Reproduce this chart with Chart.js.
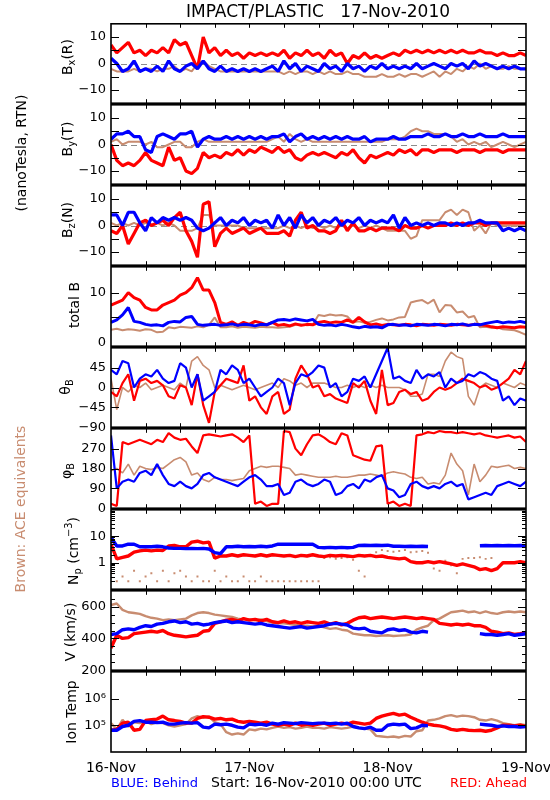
<!DOCTYPE html>
<html lang="en">
<head>
<meta charset="UTF-8">
<title>IMPACT/PLASTIC 17-Nov-2010</title>
<script src="https://cdn.jsdelivr.net/npm/chart.js"></script>
<style>
  body { margin: 0; background: #fff; }
  #page { position: relative; width: 550px; height: 800px; overflow: hidden; background: #fff;
          font-family: "DejaVu Sans", sans-serif; color: #000; }
  #page canvas { position: absolute; left: 0; }
  .txt { position: absolute; white-space: pre; line-height: 1; z-index: 5; }
  .rot { transform: translate(-50%, -50%) rotate(-90deg); }
  .ytitle { font-size: 14px; }
  sub, sup { font-size: 0.7em; line-height: 0; }
  sub { vertical-align: -0.35em; }
  sup { vertical-align: 0.6em; }
</style>
</head>
<body>
<div id="page">
  <div class="txt" style="left:318px; top:3px; font-size:17px; transform:translateX(-50%)">IMPACT/PLASTIC   17-Nov-2010</div>

  <div class="txt rot" style="left:21px; top:153px; font-size:14px">(nanoTesla, RTN)</div>
  <div class="txt rot" style="left:20px; top:509px; font-size:14px; color:#c88c70">Brown: ACE equivalents</div>

  <div class="txt rot ytitle" style="left:67px; top:57px">B<sub>x</sub>(R)</div>
  <div class="txt rot ytitle" style="left:67px; top:139px">B<sub>y</sub>(T)</div>
  <div class="txt rot ytitle" style="left:67px; top:220px">B<sub>z</sub>(N)</div>
  <div class="txt rot ytitle" style="left:74px; top:305px">total B</div>
  <div class="txt rot ytitle" style="left:65px; top:387px">θ<sub>B</sub></div>
  <div class="txt rot ytitle" style="left:66px; top:471px">φ<sub>B</sub></div>
  <div class="txt rot ytitle" style="left:73px; top:551px">N<sub>p</sub> (cm<sup>−3</sup>)</div>
  <div class="txt rot ytitle" style="left:70px; top:632px">V (km/s)</div>
  <div class="txt rot ytitle" style="left:71px; top:712px">Ion Temp</div>

  <div class="txt" style="left:111px; top:776px; font-size:13px; color:#0000ff">BLUE: Behind</div>
  <div class="txt" style="left:211px; top:775px; font-size:14px">Start: 16-Nov-2010 00:00 UTC</div>
  <div class="txt" style="left:450px; top:776px; font-size:13px; color:#ff0000">RED: Ahead</div>
</div>

<script>
// hourly samples from 16-Nov-2010 00:00 UTC (index = hours since start)
const dayTicks = ['16-Nov', '17-Nov', '18-Nov', '19-Nov'];

// B_x (R), nT
const bxBehind = [2, 0, -3, -2, 1, -3, -2, -3, -1, -3,
  1, -2, -3, -1, 0, -2, 1, -2, -3, -1,
  -3, -2, -3, -2, -3, -2, -3, -2, -1, -3,
  1, -2, 0, -3, -1, -2, -3, 0, -2, -1,
  -3, 0, -2, -1, -3, -1, -2, 0, -2, -1,
  -2, -1, -2, 0, -2, -1, 0, -1, -2, 0,
  -1, 0, -2, 1, -1, 0, -1, -2, -1, -2,
  -1, -2, -2];
const bxAhead = [7, 4, 6, 8, 4, 5, 3, 5, 4, 6,
  4, 9, 7, 8, 3, -2, 10, 4, 6, 3,
  5, 3, 4, 2, 4, 3, 4, 3, 4, 3,
  5, 2, 4, 3, 5, 3, 4, 2, 5, 3,
  4, 0, 3, 2, 4, 2, 3, 2, 3, 4,
  3, 5, 4, 5, 4, 5, 4, 5, 4, 5,
  4, 5, 4, 4, 5, 4, 4, 3, 4, 3,
  3, 4, 3];
const bxAce = [-2, -3, -3, -3, -2, -3, -2, -2, -3, -2,
  -2, -1, -3, -2, -3, 0, 1, -1, -2, -3,
  -3, -3, -3, -3, -3, -3, -3, -3, -3, -3,
  -4, -3, -4, -3, -3, -4, -3, -4, -3, -4,
  -4, -3, -4, -4, -5, -5, -5, -4, -5, -5,
  -4, -5, -4, -4, -5, -4, -3, -5, -3, -4,
  -2, -3, -1, -2, 0, -2, -1, -2, -2, -1,
  -2, -2, -2];

// B_y (T), nT
const byBehind = [2, 4, 4, 5, 3, 3, -2, -3, 3, 4,
  3, 2, 4, 4, 5, -1, 2, 3, 2, 2,
  3, 2, 3, 2, 3, 2, 3, 2, 3, 3,
  4, 1, 3, 4, 2, 3, 2, 3, 2, 3,
  2, 3, 2, 2, 3, 1, 2, 2, 2, 3,
  2, 2, 3, 3, 3, 4, 3, 3, 4, 3,
  3, 4, 3, 3, 4, 3, 3, 3, 4, 3,
  3, 3, 3];
const byAhead = [0, -6, -8, -7, -8, -6, -3, -6, -7, -8,
  -1, -6, -5, -10, -11, -9, -3, -5, -4, -5,
  -3, -4, -2, -4, -2, -3, -1, -2, -3, -1,
  -3, -2, -5, -6, -4, -3, -4, -3, -4, -5,
  -3, -4, -2, -5, -7, -4, -5, -4, -3, -4,
  -2, -3, -2, -4, -2, -2, -3, -2, -2, -2,
  -3, -2, -2, -2, -3, -2, -2, -2, -3, -2,
  -2, -2, -2];
const byAce = [1, 2, 0, 1, 1, 1, 0, 1, -1, -1,
  0, 1, 1, -1, -1, 1, 2, 1, 1, 1,
  1, 1, 1, 1, 1, 1, 1, 1, 2, 3,
  1, 4, 2, 1, 2, 1, 1, 1, 1, 1,
  1, 1, 1, 1, 1, 1, 1, 1, 2, 2,
  2, 3, 5, 6, 5, 5, 4, 4, 4, 3,
  1, 2, 0, 1, 0, 1, -1, 0, 1, 0,
  -1, 0, 1];

// B_z (N), nT
const bzBehind = [4, 4, 0, 5, 5, 1, -2, 3, 1, 3,
  2, 3, 2, 3, 2, -1, -2, -1, 1, 3,
  0, 2, 1, 3, 0, 2, 1, 2, -1, 4,
  0, 3, -1, 4, 1, 3, 0, 2, 1, 3,
  0, 2, 1, 3, 0, 2, 1, 2, 1, 4,
  -1, 3, 0, 1, 0, 1, 0, 1, 1, 0,
  1, 0, 1, 1, 2, 1, 1, 1, -2, -1,
  -2, -1, -2];
const bzAhead = [-2, -3, 0, -7, -3, 1, 2, 0, 1, 2,
  0, 3, 5, -2, -6, -12, 8, 9, -8, -3,
  -1, -3, -2, -1, -3, -2, -1, -3, -3, -3,
  -2, -4, 2, 5, -1, 0, -2, -2, -3, -2,
  2, -2, 1, -2, -2, -1, -2, -1, -1, -1,
  -2, 0, -1, -1, 0, -1, 0, 0, 0, 1,
  0, 1, 0, 1, 1, 0, 1, 1, 1, 1,
  1, 1, 1];
const bzAce = [1, 0, 1, 0, 1, 0, 1, 0, 1, 0,
  1, 0, -2, -2, -2, -1, 4, 4, 0, 0,
  0, 0, 0, -1, -1, -1, -1, -1, -1, -1,
  0, -1, 0, -1, 0, -1, 0, -1, 0, -1,
  0, -1, 0, -1, 0, -1, 0, -1, -2, -2,
  -2, -2, -5, -4, 2, 2, 2, 2, 5, 6,
  4, 6, 5, -2, 0, -3, 1, 0, 0, 0,
  0, 0, 0];

// total B, nT
const btBehind = [4, 4.5, 5.5, 7, 4.2, 4, 3.6, 3.4, 3.5, 3.3,
  4, 4.2, 4.1, 5, 5.2, 3.6, 3.4, 3.5, 3.6, 3.4,
  3.5, 3.7, 3.4, 3.6, 3.5, 3.3, 3.6, 3.5, 4, 4.5,
  4.6, 4.4, 4.7, 4.5, 4.3, 4.6, 3.6, 3.4, 3.5, 3.3,
  3.6, 3.4, 3.1, 2.9, 3.2, 3, 3.1, 2.9, 3.5, 3.6,
  3.4, 3.5, 3.3, 3.6, 3.5, 3.4, 3.6, 3.5, 3.3, 3.6,
  3.5, 3.7, 3.4, 3.6, 3.5, 3.8, 4, 4.2, 3.9, 4.1,
  4, 4.2, 3.9];
const btAhead = [7.5, 8, 8.5, 10, 9, 8.5, 7, 6.5, 6.5, 7.5,
  8, 8.5, 9.5, 10, 11, 13, 10.5, 10.5, 8, 4,
  3.6, 4.1, 3.4, 4, 3.6, 4.2, 3.9, 3.5, 4, 3.4,
  3.6, 3.3, 3.7, 3.4, 3.6, 3.5, 4, 4.2, 3.9, 4.1,
  4, 4.5, 4, 5, 4.1, 3.5, 3.7, 3.4, 3.6, 3.5,
  3.4, 3.6, 3.5, 3.3, 3.6, 3.5, 3.4, 3.6, 3.5, 3.4,
  3.6, 3.5, 3.4, 3.6, 3.5, 3.4, 3.1, 2.9, 3.1, 3,
  2.9, 3.1, 3];
const btAce = [2.5, 2.7, 2.4, 2.6, 2.5, 2.3, 2.6, 2.5, 2, 2.1,
  3, 2.8, 3.1, 3, 2.9, 3.2, 3, 3.5, 5, 3,
  3, 3.2, 2.9, 3.1, 3, 2.9, 3.1, 3, 3, 2.9,
  3, 3.1, 3.5, 3.6, 3.4, 3.5, 5.5, 5.3, 5.6, 5.4,
  5.5, 5.2, 4, 4.2, 3.9, 4.1, 4.5, 4.8, 4.4, 4.6,
  5, 5.1, 8, 8.3, 8.5, 7.8, 8.6, 6, 7.5, 7.4,
  6, 6.2, 5, 5.3, 3, 3.1, 2.9, 3, 2.6, 2.5,
  2.4, 2, 1.5];

// theta_B, degrees
const thBehind = [40, 30, 60, 55, 0, 20, 30, 25, 40, 20,
  10, 15, 55, 45, 0, 30, -30, -20, -10, 40,
  30, 50, 40, 10, 20, 0, -20, -10, 0, 20,
  10, -40, 10, 30, 25, 35, 50, 45, 0, 10,
  -20, -10, 20, 15, 25, 0, 30, 60, 90, 20,
  25, 15, 10, 40, 20, 30, 25, 35, 0, 20,
  10, 15, 30, 25, 35, 30, 20, 15, -30, -20,
  -40, -25, -30];
const thAhead = [-10, -20, 10, 30, -30, 15, 20, 10, 15, 5,
  -20, -25, 5, 0, -40, 30, -40, -80, -10, 5,
  20, 15, 10, 50, -30, -20, -45, -60, -20, -10,
  -60, -50, 20, 50, 30, 0, 5, -20, -15, -25,
  -30, -35, 10, 0, 15, -30, -60, 40, -40, -35,
  -10, -5, -15, -10, -30, -25, -10, 0, -5, 0,
  10, 20, 15, 10, 0, 5, -5, 0, 10, 20,
  40, 30, 60];
const thAce = [20, -50, 0, -10, 5, 0, 10, -5, 0, 5,
  0, -5, 10, 0, 60, 70, 50, 40, 0, 5,
  0, -5, 0, 5, 0, -5, 0, 5, 10, 0,
  20, 15, 5, 10, 0, 10, 10, 10, 5, 0,
  0, 5, 0, 5, 0, 5, 0, 5, 0, 0,
  0, -5, -20, -20, -15, 30, 30, 25, 60, 80,
  70, 65, -20, -40, 0, 10, 5, 0, 10, 5,
  0, 10, 5];

// phi_B, degrees
const phBehind = [330, 90, 120, 130, 120, 160, 170, 150, 200, 150,
  110, 100, 120, 100, 90, 110, 150, 160, 140, 130,
  120, 110, 100, 120, 140, 150, 130, 100, 100, 110,
  60, 70, 120, 130, 110, 100, 110, 130, 120, 60,
  70, 100, 110, 90, 130, 120, 140, 150, 90, 80,
  50, 60, 110, 120, 100, 90, 100, 90, 110, 120,
  100, 110, 40, 50, 60, 70, 60, 100, 110, 120,
  110, 100, 120];
const phAhead = [20, 10, 300, 290, 300, 310, 300, 290, 310, 300,
  340, 320, 310, 315, 280, 250, 330, 335, 330, 325,
  330, 335, 320, 300, 330, 20, 30, 10, 20, 20,
  350, 345, 270, 240, 290, 330, 335, 320, 300, 290,
  340, 330, 240, 230, 220, 215, 280, 285, 20, 30,
  10, 20, 10, 330, 335, 345, 340, 350, 345, 345,
  340, 345, 340, 335, 340, 330, 325, 320, 325, 330,
  320, 325, 300];
const phAce = [170, 180, 160, 200, 150, 190, 180, 175, 185, 180,
  200, 220, 230, 210, 150, 160, 130, 120, 140, 130,
  130, 125, 130, 135, 170, 180, 190, 185, 190, 190,
  185, 180, 150, 155, 150, 145, 140, 140, 140, 145,
  140, 140, 145, 150, 150, 155, 150, 145, 160, 165,
  160, 155, 140, 135, 140, 110, 115, 110, 150, 250,
  200, 170, 60, 200, 120, 150, 190, 185, 190, 195,
  180, 185, 180];

// proton density, cm^-3
const npBehind = [9, 4.3, 4.3, 5, 5, 4, 4, 4, 4.2, 4,
  3.6, 3.5, 3.5, 3.4, 3.5, 3.4, 3.5, 3.3, 2.4, 2.2,
  4, 4, 4.2, 4, 4.1, 4, 4.2, 4, 4.3, 5,
  5, 5, 5, 5, 5, 5, 3.8, 3.7, 3.8, 3.7,
  3.8, 3.7, 3.8, 4.5, 4.6, 4.5, 4.6, 4.5, 4.6, 4.2,
  4.2, 4.1, 4.2, 4.1, 4.2, 4.1, null, null, null, null,
  null, null, null, null, 4.4, 4.5, 4.4, 4.5, 4.4, 4.5,
  4.4, 4.5, 4.4];
const npAhead = [5, 1.4, 1.6, 1.8, 2.5, 2.8, 3, 2.8, 3, 2.9,
  4.3, 4.5, 4, 4, 6, 6.5, 5.6, 6, 1.5, 1.8,
  1.8, 2, 1.8, 2, 1.9, 1.8, 2, 1.8, 2, 1.9,
  1.8, 1.9, 1.7, 1.9, 1.8, 2, 1.8, 1.7, 1.9, 1.8,
  1.9, 1.8, 1.7, 1.9, 1.8, 1.9, 1.7, 1.8, 1.6, 1.5,
  1.4, 1.5, 1.1, 1, 1, 1.1, 1, 1.1, 1, 0.9,
  0.8, 0.9, 0.8, 0.7, 0.55, 0.6, 0.5, 0.6, 1, 1,
  1, 1.1, 1];
const npAce = [0.4, 0.2, 0.3, 0.2, 0.5, 0.2, 0.3, 0.4, 0.2, 0.5,
  0.2, 0.4, 0.5, 0.3, 0.2, 0.3, 0.2, 0.2, 0.5, 0.2,
  0.3, 0.2, 0.2, 0.3, 0.2, 0.2, 0.3, 0.2, 0.2, 0.2,
  0.2, 0.2, 0.2, 0.2, 0.2, 0.2, 0.2, 1.5, 1.6, 1.4,
  1.5, 1.6, 1.3, 0.5, 0.3, 1.8, 2.5, 3, 2.8, 2.6,
  2.8, 3, 2.5, 2.6, 2.8, 2.4, 0.6, 0.5, 1.2, 0.8,
  0.4, 1.4, 1.5, 1.5, 1.6, 1.4, 1.5, null, null, null,
  null, null, null];

// bulk speed, km/s
const vBehind = [425, 430, 455, 460, 455, 470, 480, 475, 490, 495,
  505, 510, 500, 505, 490, 495, 485, 490, 500, 505,
  510, 500, 505, 500, 495, 490, 495, 485, 480, 475,
  470, 465, 470, 475, 465, 470, 475, 480, 490, 495,
  490, 485, 465, 460, 465, 445, 440, 435, 455, 460,
  450, 455, 440, 435, 445, 440, null, null, null, null,
  null, null, null, null, 430, 425, 425, 420, 425, 430,
  420, 425, 430];
const vAhead = [340, 420, 400, 405, 430, 435, 440, 445, 440, 450,
  430, 420, 415, 410, 415, 420, 445, 450, 495, 505,
  515, 520, 510, 525, 515, 520, 510, 520, 505, 500,
  510, 500, 505, 495, 505, 500, 495, 505, 490, 500,
  485, 495, 515, 530, 535, 525, 530, 535, 530, 525,
  530, 535, 530, 525, 530, 525, 520, 495, 490, 485,
  490, 485, 490, 480, 480, 470, 445, 440, 430, 435,
  425, 430, 437];
const vAce = [610, 620, 580, 565, 560, 555, 540, 530, 525, 515,
  520, 515, 520, 525, 545, 560, 565, 560, 550, 545,
  540, 535, 525, 520, 520, 515, 520, 510, 500, 495,
  495, 490, 485, 480, 480, 475, 480, 470, 460, 465,
  455, 450, 430, 425, 420, 420, 415, 418, 420, 415,
  418, 420, 425, 455, 470, 480, 515, 525, 545, 565,
  570, 575, 565, 570, 560, 570, 560, 555, 565, 570,
  565, 570, 565];

// ion temperature, K
const tBehind = [6.5e4, 6.5e4, 9e4, 1.0e5, 1.4e5, 1.5e5, 1.3e5, 1.3e5, 1.25e5, 1.3e5,
  1.1e5, 1.1e5, 1.2e5, 1.25e5, 1.2e5, 1.25e5, 8.5e4, 8e4, 1.1e5, 1.05e5,
  1.1e5, 1.0e5, 8.5e4, 8e4, 1.1e5, 1.05e5, 1.1e5, 1.0e5, 1.2e5, 1.1e5,
  1.25e5, 1.2e5, 1.15e5, 1.25e5, 1.2e5, 1.15e5, 1.2e5, 1.2e5, 1.15e5, 1.2e5,
  1.1e5, 1.2e5, 9e4, 8e4, 7.5e4, 8.5e4, 6.5e4, 6.5e4, 1.0e5, 1.1e5,
  1.05e5, 1.1e5, 7.5e4, 8e4, 1.0e5, 9.5e4, null, null, null, null,
  null, null, null, null, 1.1e5, 1.05e5, 1.0e5, 9e4, 9.5e4, 9e4,
  9e4, 8.5e4, 9e4];
const tAhead = [6.5e4, 7e4, 1.2e5, 1.3e5, 6.5e4, 7e4, 1.5e5, 1.6e5, 1.7e5, 2.2e5,
  1.6e5, 1.5e5, 1.4e5, 1.2e5, 1.2e5, 1.8e5, 2.1e5, 2.0e5, 1.7e5, 1.8e5,
  1.6e5, 1.7e5, 1.4e5, 1.3e5, 1.4e5, 1.3e5, 1.2e5, 1.3e5, 1.1e5, 1.0e5,
  1.1e5, 1.0e5, 1.2e5, 1.0e5, 1.1e5, 1.0e5, 1.1e5, 1.2e5, 1.0e5, 1.1e5,
  1.2e5, 1.1e5, 1.3e5, 1.2e5, 1.1e5, 1.2e5, 1.8e5, 2.2e5, 2.5e5, 2.8e5,
  2.4e5, 2.6e5, 2.0e5, 1.6e5, 1.3e5, 1.1e5, 1.0e5, 9.5e4, 8.5e4, 7.0e4,
  6.5e4, 7.0e4, 6.5e4, 6.3e4, 6.5e4, 6.0e4, 6.5e4, 8.0e4, 1.0e5, 1.0e5,
  9.5e4, 1.0e5, 9.0e4];
const tAce = [1.2e5, 7e4, 1.6e5, 9e4, 1.3e5, 1.2e5, 1.4e5, 1.1e5, 1.3e5, 1.2e5,
  1.0e5, 9e4, 1.0e5, 1.1e5, 1.8e5, 2.2e5, 1.9e5, 2.1e5, 1.3e5, 1.1e5,
  5.5e4, 4.5e4, 5e4, 4.5e4, 7e4, 6.5e4, 7.5e4, 7e4, 8e4, 9e4,
  8e4, 8.5e4, 7.5e4, 8e4, 9e4, 8e4, 8e4, 7.5e4, 8.5e4, 8e4,
  7.5e4, 8e4, 9e4, 8e4, 7.5e4, 7e4, 4e4, 3.8e4, 3.6e4, 3.8e4,
  3.5e4, 4e4, 3.8e4, 6e4, 6.5e4, 1.5e5, 1.6e5, 1.8e5, 2.2e5, 2.4e5,
  2.1e5, 2.3e5, 2.2e5, 2.0e5, 1.6e5, 1.5e5, 1.7e5, 1.5e5, 1.2e5, 1.1e5,
  1.0e5, 1.1e5, 1.0e5];

const BLUE = '#0000ff', RED = '#ff0000', BROWN = '#c88c70';
const FONT = 'DejaVu Sans';

const signed = v => (v < 0 ? '\u2212' + Math.abs(v) : String(v));
const powTen = v => '10' + { 5: '\u2075', 6: '\u2076' }[Math.round(Math.log10(v))];
const logMinor = [0.2, 0.3, 0.4, 0.5, 0.6, 0.7, 0.8, 0.9, 2, 3, 4, 5, 6, 7, 8, 9,
  20, 30, 40, 50, 60, 70, 80, 90];

// lw = width of the spacecraft traces, aw = width of the ACE trace
const panels = [
  { behind: bxBehind, ahead: bxAhead, ace: bxAce, min: -15, max: 15, lw: 3.2, aw: 2,
    labels: [-10, 0, 10], major: [-10, -5, 0, 5, 10], minor: [], zero: true, fmt: signed },
  { behind: byBehind, ahead: byAhead, ace: byAce, min: -15, max: 15, lw: 3.2, aw: 2,
    labels: [-10, 0, 10], major: [-10, -5, 0, 5, 10], minor: [], zero: true, fmt: signed },
  { behind: bzBehind, ahead: bzAhead, ace: bzAce, min: -15, max: 15, lw: 3.2, aw: 2,
    labels: [-10, 0, 10], major: [-10, -5, 0, 5, 10], minor: [], zero: true, fmt: signed },
  { behind: btBehind, ahead: btAhead, ace: btAce, min: -0.8, max: 15.2, lw: 3, aw: 2,
    labels: [0, 10], major: [5, 10], minor: [], fmt: signed },
  { behind: thBehind, ahead: thAhead, ace: thAce, min: -90, max: 90, lw: 2.2, aw: 1.6,
    labels: [-90, -45, 0, 45], major: [-45, 0, 45], minor: [], fmt: signed },
  { behind: phBehind, ahead: phAhead, ace: phAce, min: 0, max: 360, lw: 2.2, aw: 1.6,
    labels: [0, 90, 180, 270], major: [90, 180, 270], minor: [], fmt: signed },
  { behind: npBehind, ahead: npAhead, ace: npAce, min: 0.1, max: 100, log: true, lw: 3.4, aw: 0,
    labels: [1, 10], major: [1, 10], minor: logMinor, fmt: v => String(v), aceDots: true },
  { behind: vBehind, ahead: vAhead, ace: vAce, min: 200, max: 700, lw: 3.4, aw: 2.4,
    labels: [200, 400, 600], major: [400, 600], minor: [250, 300, 350, 450, 500, 550, 650], fmt: signed },
  { behind: tBehind, ahead: tAhead, ace: tAce, min: 1e4, max: 1e7, log: true, lw: 3.4, aw: 2.4,
    labels: [1e5, 1e6], major: [1e5, 1e6], minor: [], fmt: powTen }
];

const xTickHours = [6, 12, 18, 24, 30, 36, 42, 48, 54, 60, 66];

function framePlugin(p) {
  return {
    id: 'frame',
    beforeDatasetsDraw(chart) {
      if (!p.zero) return;
      const { ctx, chartArea: a } = chart;
      const y0 = Math.round(chart.scales.y.getPixelForValue(0)) + 0.5;
      ctx.save();
      ctx.strokeStyle = '#8c8c8c';
      ctx.lineWidth = 1;
      ctx.setLineDash([6, 4]);
      ctx.beginPath();
      ctx.moveTo(a.left, y0);
      ctx.lineTo(a.right, y0);
      ctx.stroke();
      ctx.restore();
    },
    afterDraw(chart) {
      const { ctx, chartArea: a, scales: { x, y } } = chart;
      ctx.save();
      ctx.strokeStyle = '#000';
      ctx.lineWidth = 1;
      ctx.beginPath();
      xTickHours.forEach(h => {
        const px = Math.round(x.getPixelForValue(h)) + 0.5;
        ctx.moveTo(px, a.top); ctx.lineTo(px, a.top + 4);
        ctx.moveTo(px, a.bottom); ctx.lineTo(px, a.bottom - 4);
      });
      const yTick = (v, len) => {
        const py = Math.round(y.getPixelForValue(v)) + 0.5;
        ctx.moveTo(a.left, py); ctx.lineTo(a.left + len, py);
        ctx.moveTo(a.right, py); ctx.lineTo(a.right - len, py);
      };
      p.major.forEach(v => yTick(v, 8));
      p.minor.forEach(v => yTick(v, 4));
      ctx.stroke();
      ctx.lineWidth = 1.6;
      ctx.strokeRect(a.left, a.top, a.right - a.left, a.bottom - a.top);
      ctx.restore();
    }
  };
}

const xy = arr => arr.map((v, i) => ({ x: i, y: v }));
const page = document.getElementById('page');

panels.forEach((p, i) => {
  const last = i === panels.length - 1;
  const top = 23 + i * 81;
  const cv = document.createElement('canvas');
  cv.width = 550;
  cv.height = last ? 133 : 105;
  cv.style.top = (top - 12) + 'px';
  page.appendChild(cv);

  new Chart(cv, {
    type: 'line',
    data: {
      datasets: [
        { label: 'Behind', data: xy(p.behind), borderColor: BLUE, borderWidth: p.lw, pointRadius: 0 },
        { label: 'Ahead', data: xy(p.ahead), borderColor: RED, borderWidth: p.lw, pointRadius: 0 },
        { label: 'ACE', data: xy(p.ace), borderColor: BROWN, backgroundColor: BROWN,
          borderWidth: p.aw, showLine: !p.aceDots,
          pointRadius: p.aceDots ? 1.4 : 0, pointStyle: 'rect' }
      ]
    },
    options: {
      responsive: false,
      animation: false,
      devicePixelRatio: 1,
      layout: { padding: { top: 12, bottom: last ? 0 : 12, left: 0, right: 24 } },
      elements: { line: { tension: 0, borderJoinStyle: 'bevel' } },
      plugins: { legend: { display: false }, tooltip: { enabled: false } },
      scales: {
        x: {
          type: 'linear', min: 0, max: 72, display: last,
          grid: { display: false, drawTicks: false },
          border: { display: false },
          afterBuildTicks: s => { s.ticks = dayTicks.map((d, k) => ({ value: k * 24 })); },
          afterFit: s => { s.height = last ? 40 : 0; s.paddingLeft = 0; s.paddingRight = 0; },
          ticks: { autoSkip: false, maxRotation: 0, padding: 8, color: '#000',
                   font: { family: FONT, size: 14 }, callback: v => dayTicks[Math.round(v / 24)] }
        },
        y: {
          type: p.log ? 'logarithmic' : 'linear', min: p.min, max: p.max,
          grid: { display: false, drawTicks: false },
          border: { display: false },
          afterBuildTicks: s => { s.ticks = p.labels.map(v => ({ value: v })); },
          afterFit: s => { s.width = 111; },
          ticks: { autoSkip: false, padding: 5, color: '#000',
                   font: { family: FONT, size: 13 }, callback: v => p.fmt(v) }
        }
      }
    },
    plugins: [framePlugin(p)]
  });
});
</script>
</body>
</html>
